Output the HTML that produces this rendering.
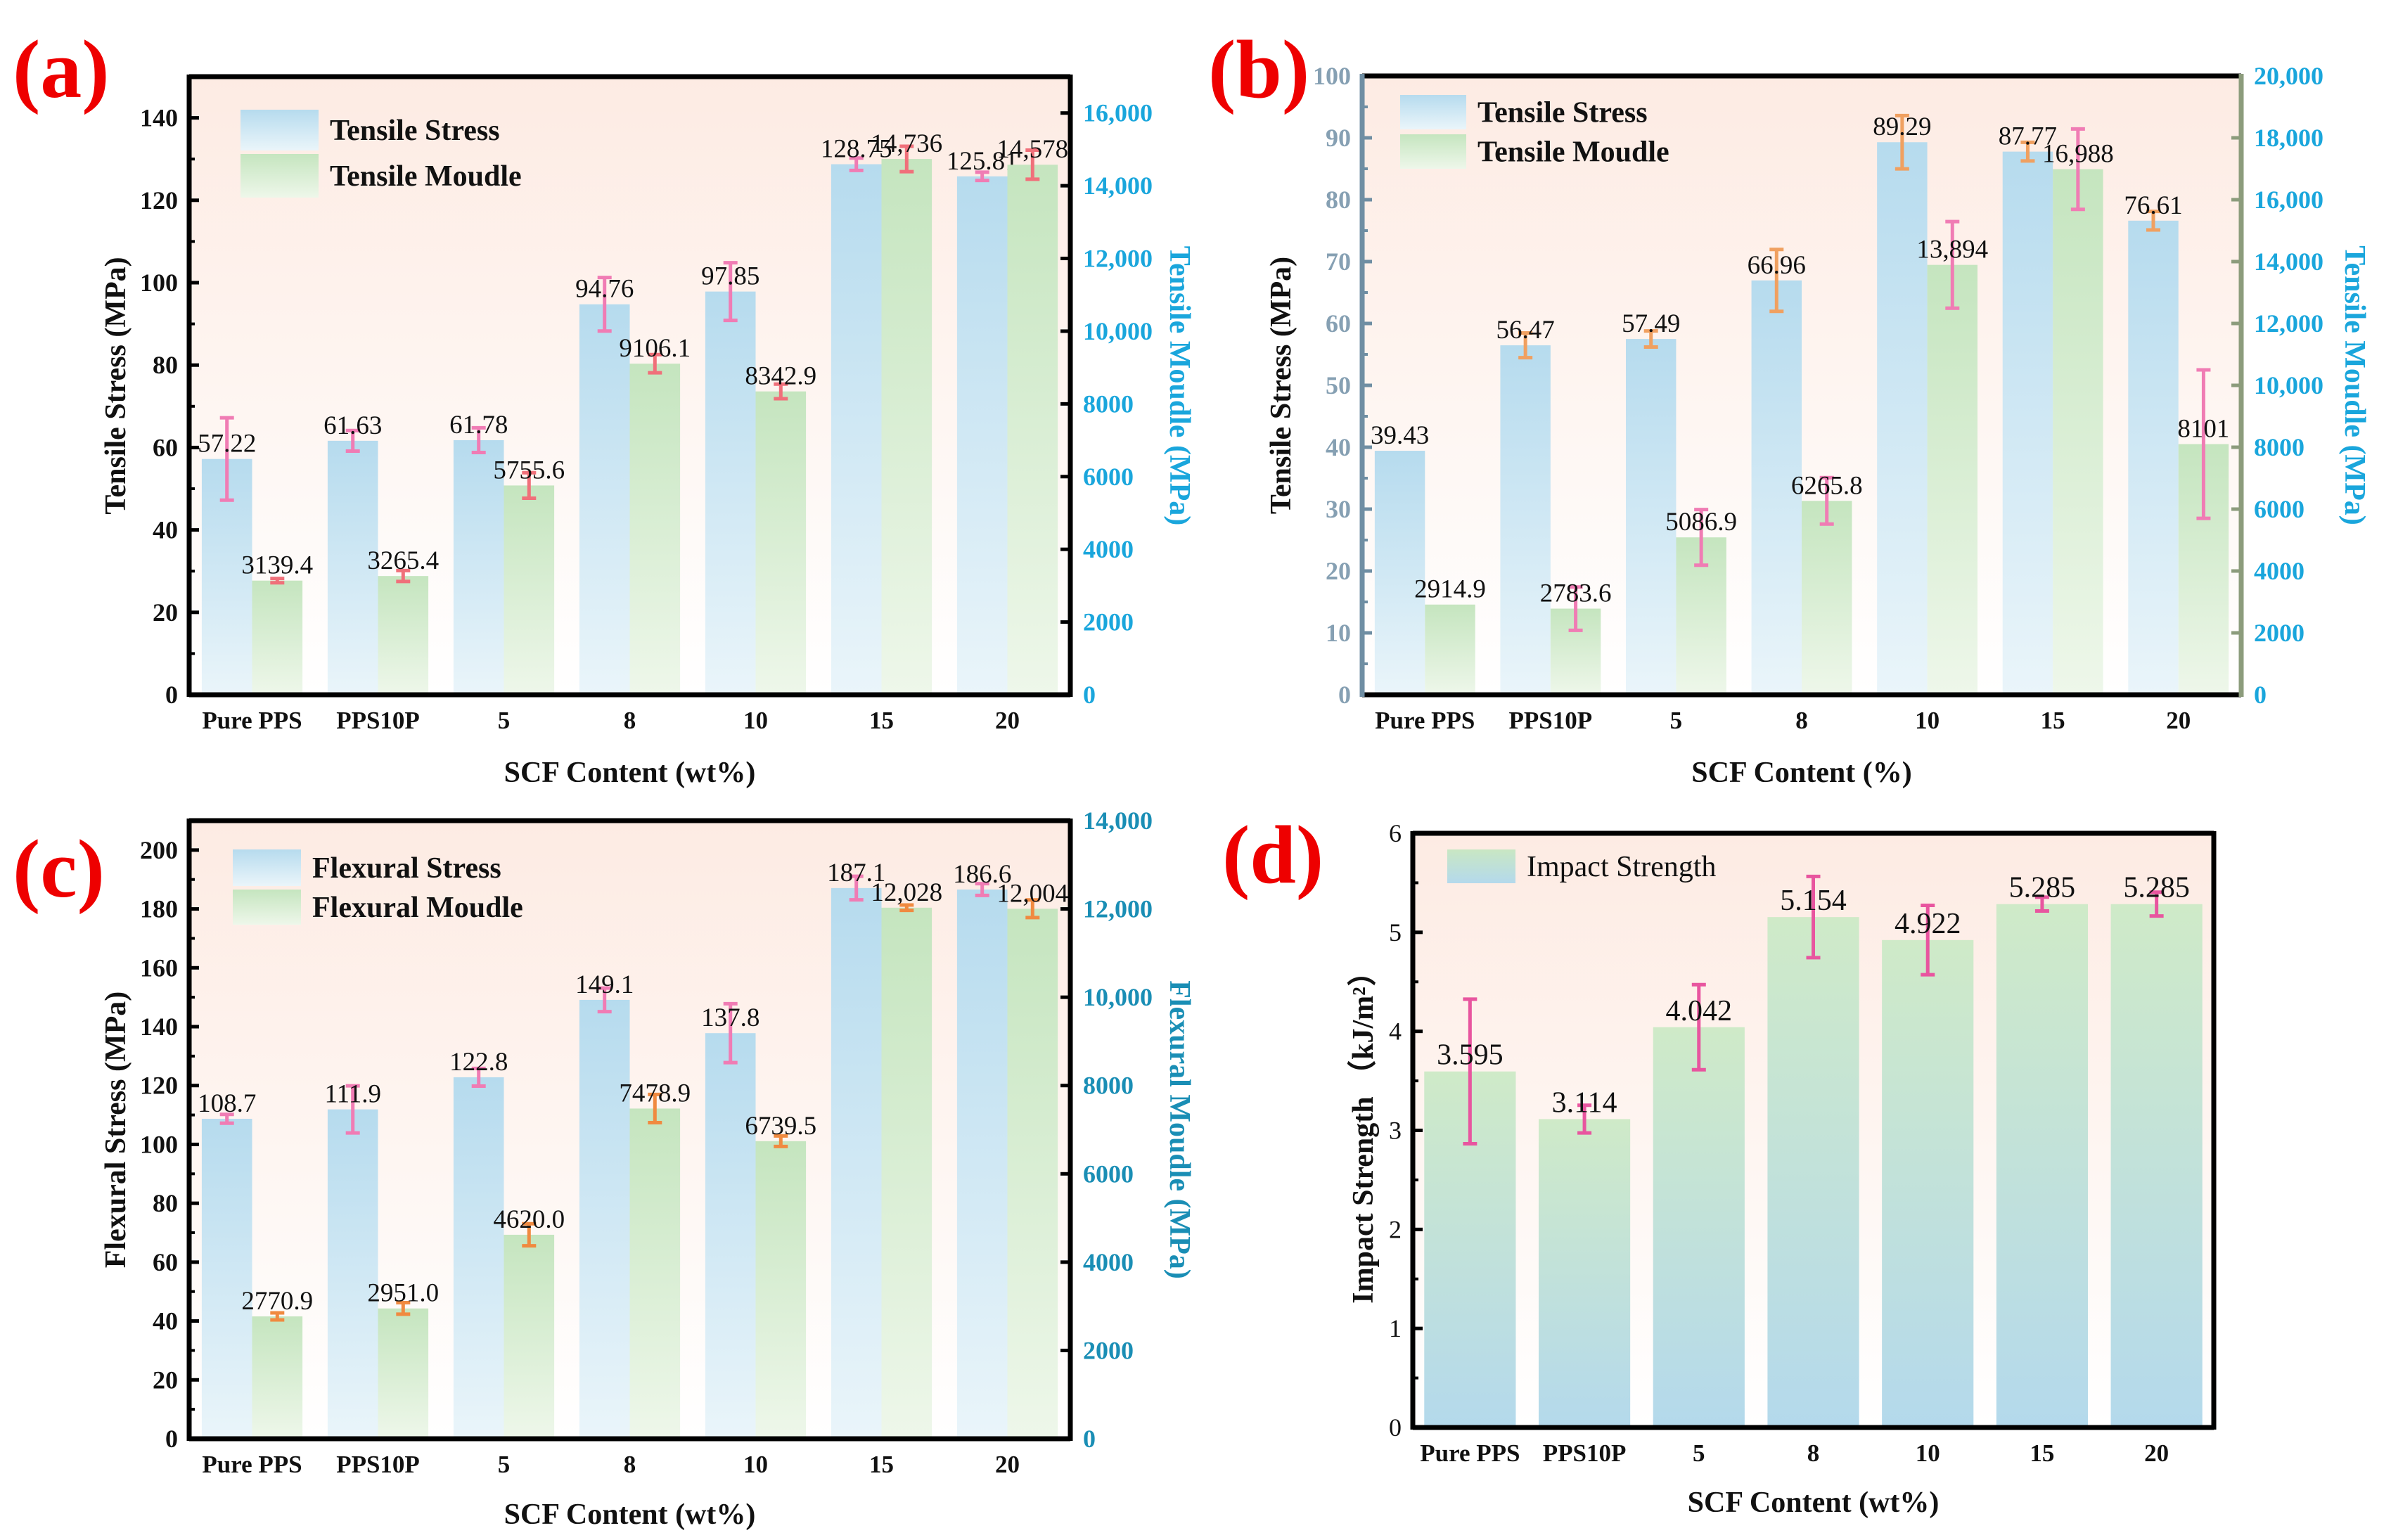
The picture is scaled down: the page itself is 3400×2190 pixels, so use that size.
<!DOCTYPE html>
<html><head><meta charset="utf-8"><style>
html,body{margin:0;padding:0;background:#fff;}
svg{display:block;}
svg text{font-family:"Liberation Serif","Times New Roman","Noto Sans CJK SC",serif;}
</style></head><body>
<svg id="fig" width="3400" height="2190" viewBox="0 0 3400 2190" xmlns="http://www.w3.org/2000/svg" font-family="Liberation Serif, Times New Roman, serif">
<defs>
<linearGradient id="bgG" x1="0" y1="0" x2="0" y2="1"><stop offset="0" stop-color="#fdebe3"/><stop offset="0.55" stop-color="#fef6f2"/><stop offset="1" stop-color="#ffffff"/></linearGradient>
<linearGradient id="blueG" x1="0" y1="0" x2="0" y2="1"><stop offset="0" stop-color="#b6dbee"/><stop offset="1" stop-color="#eaf5fa"/></linearGradient>
<linearGradient id="greenG" x1="0" y1="0" x2="0" y2="1"><stop offset="0" stop-color="#c5e5bf"/><stop offset="1" stop-color="#eef7ea"/></linearGradient>
<linearGradient id="dG" x1="0" y1="0" x2="0" y2="1"><stop offset="0" stop-color="#cfeac8"/><stop offset="1" stop-color="#b4d9ec"/></linearGradient>
<linearGradient id="dLeg" x1="0" y1="0" x2="0" y2="1"><stop offset="0" stop-color="#c9e7c3"/><stop offset="1" stop-color="#b4d9ec"/></linearGradient>
</defs>
</svg>
<script>
const categories = ["Pure PPS","PPS10P","5","8","10","15","20"];
// panel (a)
const aStress = [57.22,61.63,61.78,94.76,97.85,128.75,125.81];
const aStressErr = [10,2.5,3,6.5,7,1.5,1];
const aStressLbl = ["57.22","61.63","61.78","94.76","97.85","128.75","125.81"];
const aMod = [3139.4,3265.4,5755.6,9106.1,8342.9,14736,14578];
const aModErr = [60,150,350,250,200,350,400];
const aModLbl = ["3139.4","3265.4","5755.6","9106.1","8342.9","14,736","14,578"];
const aLeftTicks = [0,20,40,60,80,100,120,140];
const aRightTicks = [0,2000,4000,6000,8000,10000,12000,14000,16000];
// panel (b)
const bStress = [39.43,56.47,57.49,66.96,89.29,87.77,76.61];
const bStressErr = [0,2,1.3,5,4.3,1.5,1.5];
const bStressLbl = ["39.43","56.47","57.49","66.96","89.29","87.77","76.61"];
const bMod = [2914.9,2783.6,5086.9,6265.8,13894,16988,8101];
const bModErr = [0,700,900,750,1400,1300,2400];
const bModLbl = ["2914.9","2783.6","5086.9","6265.8","13,894","16,988","8101"];
const bLeftTicks = [0,10,20,30,40,50,60,70,80,90,100];
const bRightTicks = [0,2000,4000,6000,8000,10000,12000,14000,16000,18000,20000];
// panel (c)
const cStress = [108.7,111.9,122.8,149.1,137.8,187.1,186.6];
const cStressErr = [1.5,8,3,4,10,4,2];
const cStressLbl = ["108.7","111.9","122.8","149.1","137.8","187.1","186.6"];
const cMod = [2770.9,2951.0,4620.0,7478.9,6739.5,12028,12004];
const cModErr = [80,130,250,320,120,60,200];
const cModLbl = ["2770.9","2951.0","4620.0","7478.9","6739.5","12,028","12,004"];
const cLeftTicks = [0,20,40,60,80,100,120,140,160,180,200];
const cRightTicks = [0,2000,4000,6000,8000,10000,12000,14000];
// panel (d)
const dImpact = [3.595,3.114,4.042,5.154,4.922,5.285,5.285];
const dImpactErr = [0.73,0.14,0.43,0.41,0.35,0.07,0.12];
const dImpactLbl = ["3.595","3.114","4.042","5.154","4.922","5.285","5.285"];
const dTicks = [0,1,2,3,4,5,6];

const svg = document.getElementById('fig');
const NS = 'http://www.w3.org/2000/svg';
const FONT = '"Liberation Serif", "Times New Roman", "Noto Sans CJK SC", serif';
function mk(tag, attrs, parent){
  const e = document.createElementNS(NS, tag);
  for (const k in attrs) e.setAttribute(k, attrs[k]);
  (parent||svg).appendChild(e);
  return e;
}
function txt(s, attrs, parent){ const t = mk('text', attrs, parent); t.setAttribute('font-family', FONT); t.textContent = s; return t; }
function fmt(v){ return v>=10000 ? v.toLocaleString('en-US') : String(v); }

function panel(p){
  const g = mk('g', {});
  
  
  const L=p.left,R=p.right,T=p.top,B=p.bottom;
  const bg = mk('rect',{x:L,y:T,width:R-L,height:B-T,fill:'url(#bgG)'},g);
  
  
  const yL = v => B - v/p.lmax*(B-T);
  const yR = v => B - v/p.rmax*(B-T);
  const band = (R-L)/categories.length;
  const single = !p.s2;
  categories.forEach((c,i)=>{
    const x0 = L + i*band;
    const series = single ? [[p.s1,p.e1,p.l1,yL,0.1,0.8,p.fill1,p.err1]] :
      [[p.s1,p.e1,p.l1,yL,0.1,0.4,p.fill1,p.err1],[p.s2,p.e2,p.l2,yR,0.5,0.4,p.fill2,p.err2]];
    series.forEach((s,k)=>{
      const v=s[0][i], e=s[1][i], y=s[3];
      const bx = x0 + s[4]*band, bw = s[5]*band, cx = bx+bw/2;
      const r = mk('rect',{x:bx,y:y(v),width:bw,height:B-y(v),fill:s[6]},g);
      
      
      if (e>0){
        const eg = mk('g',{stroke:s[7],'stroke-width':5},g);
        
        
        mk('line',{x1:cx,x2:cx,y1:y(v+e),y2:y(v-e)},eg);
        mk('line',{x1:cx-10,x2:cx+10,y1:y(v+e),y2:y(v+e)},eg);
        mk('line',{x1:cx-10,x2:cx+10,y1:y(v-e),y2:y(v-e)},eg);
      }
      const lt = txt(s[2][i],{x:cx,y:y(v)-10,'text-anchor':'middle','font-size':p.vfs||37,fill:'#111'},g);
      
      
    });
    const xt = txt(c,{x:x0+band/2,y:B+48,'text-anchor':'middle','font-size':35,'font-weight':'bold',fill:'#111'},g);
    
    
  });
  p.lt.forEach(v=>{
    mk('line',{x1:L,x2:L+14,y1:yL(v),y2:yL(v),stroke:p.lAxisCol,'stroke-width':5},g);
    const t = txt(String(v),{x:L-16,y:yL(v)+12,'text-anchor':'end','font-size':36,'font-weight':p.ltBold===false?'normal':'bold',fill:p.ltCol},g);
    
    
  });
  for (let i=0;i<p.lt.length-1;i++){
    const m=(p.lt[i]+p.lt[i+1])/2;
    mk('line',{x1:L,x2:L+8,y1:yL(m),y2:yL(m),stroke:p.lAxisCol,'stroke-width':4},g);
  }
  if (p.rt){
    p.rt.forEach(v=>{
      mk('line',{x1:R-14,x2:R,y1:yR(v),y2:yR(v),stroke:p.rAxisCol,'stroke-width':5},g);
      const t = txt(fmt(v),{x:R+18,y:yR(v)+12,'text-anchor':'start','font-size':36,'font-weight':'bold',fill:p.rtCol},g);
      
      
    });
  }
  mk('line',{x1:L,x2:R,y1:T,y2:T,stroke:'#000','stroke-width':7},g);
  mk('line',{x1:L,x2:R,y1:B,y2:B,stroke:'#000','stroke-width':7},g);
  mk('line',{x1:L,x2:L,y1:T-3,y2:B+3,stroke:p.lAxisCol,'stroke-width':7},g);
  mk('line',{x1:R,x2:R,y1:T-3,y2:B+3,stroke:p.rAxisCol,'stroke-width':7},g);
  const yt = txt(p.lTitle,{x:0,y:0,transform:`translate(${p.lTitleX},${(T+B)/2}) rotate(-90)`,'text-anchor':'middle','font-size':42,'font-weight':'bold',fill:'#111'},g);
  
  
  if (p.rTitle){
    const rt = txt(p.rTitle,{x:0,y:0,transform:`translate(${p.rTitleX},${(T+B)/2}) rotate(90)`,'text-anchor':'middle','font-size':42,'font-weight':'bold',fill:p.rTitleCol},g);
    
    
  }
  const xtt = txt(p.xTitle,{x:(L+R)/2,y:p.xTitleY,'text-anchor':'middle','font-size':42,'font-weight':'bold',fill:'#111'},g);
  
  
  const pl = txt(p.tag,{x:p.tagX,y:p.tagY,'font-size':118,'font-weight':'bold',fill:'#ee0000'},g);
  
  
  p.legend.forEach((l,i)=>{
    const lg = mk('g',{},g);
    
    
    mk('rect',{x:l.x,y:l.y,width:l.w,height:l.h,fill:l.fill},lg);
    txt(l.text,{x:l.x+l.w+16,y:l.y+l.h/2+14,'font-size':42,'font-weight':l.bold===false?'normal':'bold',fill:'#111'},lg);
  });
}

panel({name:'panel-a',tag:'(a)',tagX:18,tagY:138,left:269,right:1522,top:109,bottom:988,lmax:150,rmax:17000,
  s1:aStress,e1:aStressErr,l1:aStressLbl,s2:aMod,e2:aModErr,l2:aModLbl,n1:'tensile-stress',n2:'tensile-moudle',
  fill1:'url(#blueG)',fill2:'url(#greenG)',err1:'#f07cb4',err2:'#f0707a',
  lt:aLeftTicks,rt:aRightTicks,lAxisCol:'#000',rAxisCol:'#000',ltCol:'#111',rtCol:'#1aa6dc',
  lTitle:'Tensile Stress (MPa)',lTitleX:178,rTitle:'Tensile Moudle (MPa)',rTitleX:1664,rTitleCol:'#1aa6dc',
  xTitle:'SCF Content (wt%)',xTitleY:1112,
  legend:[{x:342,y:156,w:111,h:58,fill:'url(#blueG)',text:'Tensile Stress'},{x:342,y:219,w:111,h:62,fill:'url(#greenG)',text:'Tensile Moudle'}]});

panel({name:'panel-b',tag:'(b)',tagX:1718,tagY:138,left:1937,right:3187,top:108,bottom:988,lmax:100,rmax:20000,
  s1:bStress,e1:bStressErr,l1:bStressLbl,s2:bMod,e2:bModErr,l2:bModLbl,n1:'tensile-stress',n2:'tensile-moudle',
  fill1:'url(#blueG)',fill2:'url(#greenG)',err1:'#f0a060',err2:'#f07cb4',
  lt:bLeftTicks,rt:bRightTicks,lAxisCol:'#6f8ea3',rAxisCol:'#8c9c7c',ltCol:'#86a0b3',rtCol:'#1aa6dc',
  lTitle:'Tensile Stress (MPa)',lTitleX:1835,rTitle:'Tensile Moudle (MPa)',rTitleX:3335,rTitleCol:'#1aa6dc',
  xTitle:'SCF Content (%)',xTitleY:1112,
  legend:[{x:1991,y:135,w:94,h:49,fill:'url(#blueG)',text:'Tensile Stress'},{x:1991,y:191,w:94,h:49,fill:'url(#greenG)',text:'Tensile Moudle'}]});

panel({name:'panel-c',tag:'(c)',tagX:18,tagY:1275,left:269,right:1522,top:1167,bottom:2046,lmax:210,rmax:14000,
  s1:cStress,e1:cStressErr,l1:cStressLbl,s2:cMod,e2:cModErr,l2:cModLbl,n1:'flexural-stress',n2:'flexural-moudle',
  fill1:'url(#blueG)',fill2:'url(#greenG)',err1:'#f07cb4',err2:'#f08a40',
  lt:cLeftTicks,rt:cRightTicks,lAxisCol:'#000',rAxisCol:'#000',ltCol:'#111',rtCol:'#1a8eb5',
  lTitle:'Flexural Stress (MPa)',lTitleX:178,rTitle:'Flexural Moudle (MPa)',rTitleX:1664,rTitleCol:'#1a8eb5',
  xTitle:'SCF Content (wt%)',xTitleY:2167,
  legend:[{x:331,y:1208,w:97,h:52,fill:'url(#blueG)',text:'Flexural Stress'},{x:331,y:1265,w:97,h:50,fill:'url(#greenG)',text:'Flexural Moudle'}]});

panel({name:'panel-d',tag:'(d)',tagX:1738,tagY:1255,left:2009,right:3148,top:1185,bottom:2030,lmax:6,
  s1:dImpact,e1:dImpactErr,l1:dImpactLbl,n1:'impact-strength',
  fill1:'url(#dG)',err1:'#e8559f',vfs:42,
  lt:dTicks,lAxisCol:'#000',rAxisCol:'#000',ltCol:'#111',ltBold:false,
  lTitle:'Impact Strength （kJ/m²）',lTitleX:1952,
  xTitle:'SCF Content (wt%)',xTitleY:2150,
  legend:[{x:2058,y:1208,w:97,h:48,fill:'url(#dLeg)',text:'Impact Strength',bold:false}]});
</script>
</body></html>
